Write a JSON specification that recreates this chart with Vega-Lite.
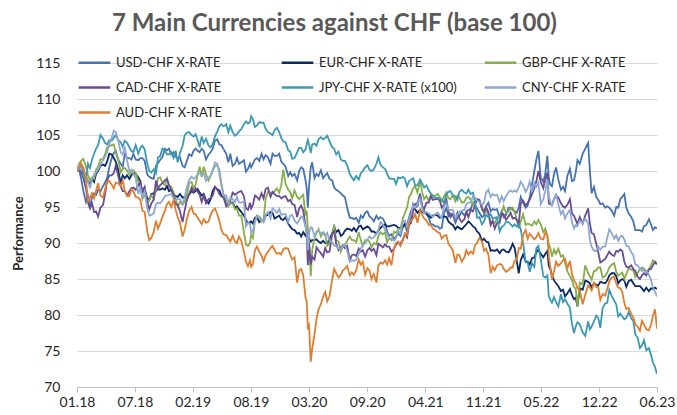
{
"$schema": "https://vega.github.io/schema/vega-lite/v6.json",
"width": 580, "height": 324,
"autosize": {"type": "none"},
"padding": {"left": 77, "top": 63, "right": 20, "bottom": 28},
"background": "white",
"title": {"text": "7 Main Currencies against CHF (base 100)", "anchor": "start", "dx": 100, "offset": 9, "fontSize": 24, "font": "Lato", "fontWeight": "bold", "color": "#595959"},
"data": {"values": [
{"d":"2018-01-01","USD":100,"EUR":100,"GBP":100,"CAD":100,"JPY":100,"CNY":100,"AUD":100},
{"d":"2018-01-15","USD":99.0,"EUR":100.7,"GBP":101.4,"CAD":99.9,"JPY":100.7,"CNY":100.2,"AUD":101.1},
{"d":"2018-02-01","USD":95.7,"EUR":99.1,"GBP":100.6,"CAD":97.6,"JPY":98.6,"CNY":99.0,"AUD":98.9},
{"d":"2018-02-15","USD":95.0,"EUR":98.1,"GBP":98.7,"CAD":94.8,"JPY":100.4,"CNY":97.6,"AUD":96.3},
{"d":"2018-03-01","USD":96.9,"EUR":98.5,"GBP":98.9,"CAD":94.3,"JPY":102.4,"CNY":99.5,"AUD":96.2},
{"d":"2018-03-15","USD":97.4,"EUR":100.0,"GBP":100.6,"CAD":93.7,"JPY":103.6,"CNY":100.2,"AUD":98.3},
{"d":"2018-04-01","USD":97.9,"EUR":100.9,"GBP":101.7,"CAD":95.3,"JPY":104.5,"CNY":101.5,"AUD":96.3},
{"d":"2018-04-15","USD":99.0,"EUR":101.3,"GBP":103.3,"CAD":98.7,"JPY":103.7,"CNY":102.6,"AUD":98.5},
{"d":"2018-05-01","USD":101.8,"EUR":102.3,"GBP":103.6,"CAD":99.4,"JPY":104.2,"CNY":104.6,"AUD":98.1},
{"d":"2018-05-15","USD":102.8,"EUR":101.3,"GBP":102.5,"CAD":100.7,"JPY":105.0,"CNY":105.4,"AUD":98.4},
{"d":"2018-06-01","USD":101.0,"EUR":98.3,"GBP":99.8,"CAD":97.9,"JPY":104.0,"CNY":102.6,"AUD":97.9},
{"d":"2018-06-15","USD":102.3,"EUR":99.0,"GBP":100.4,"CAD":97.2,"JPY":104.2,"CNY":103.4,"AUD":97.3},
{"d":"2018-07-01","USD":101.8,"EUR":98.9,"GBP":99.5,"CAD":97.2,"JPY":103.3,"CNY":100.0,"AUD":96.5},
{"d":"2018-07-15","USD":102.4,"EUR":99.8,"GBP":100.1,"CAD":97.7,"JPY":102.6,"CNY":99.6,"AUD":97.2},
{"d":"2018-08-01","USD":101.5,"EUR":99.1,"GBP":98.5,"CAD":98.0,"JPY":102.4,"CNY":96.8,"AUD":96.3},
{"d":"2018-08-15","USD":101.8,"EUR":96.8,"GBP":96.1,"CAD":97.2,"JPY":103.5,"CNY":96.4,"AUD":94.5},
{"d":"2018-09-01","USD":99.5,"EUR":96.2,"GBP":95.3,"CAD":95.6,"JPY":101.0,"CNY":94.8,"AUD":91.6},
{"d":"2018-09-15","USD":99.0,"EUR":96.8,"GBP":96.6,"CAD":95.5,"JPY":99.8,"CNY":93.9,"AUD":90.7},
{"d":"2018-10-01","USD":100.7,"EUR":97.2,"GBP":97.3,"CAD":98.7,"JPY":99.7,"CNY":95.4,"AUD":93.1},
{"d":"2018-10-15","USD":101.5,"EUR":97.4,"GBP":99.1,"CAD":98.0,"JPY":102.0,"CNY":95.5,"AUD":92.7},
{"d":"2018-11-01","USD":103.1,"EUR":97.4,"GBP":98.0,"CAD":98.7,"JPY":102.9,"CNY":96.5,"AUD":94.5},
{"d":"2018-11-15","USD":103.1,"EUR":97.2,"GBP":98.0,"CAD":98.0,"JPY":102.3,"CNY":96.7,"AUD":95.7},
{"d":"2018-12-01","USD":102.6,"EUR":96.8,"GBP":97.0,"CAD":96.7,"JPY":101.8,"CNY":96.2,"AUD":96.0},
{"d":"2018-12-15","USD":101.8,"EUR":96.4,"GBP":95.1,"CAD":95.3,"JPY":101.2,"CNY":96.1,"AUD":93.6},
{"d":"2019-01-01","USD":100.7,"EUR":96.3,"GBP":95.3,"CAD":92.9,"JPY":103.5,"CNY":95.4,"AUD":90.9},
{"d":"2019-01-15","USD":101.3,"EUR":96.4,"GBP":96.4,"CAD":95.8,"JPY":105.3,"CNY":97.6,"AUD":93.2},
{"d":"2019-02-01","USD":102.1,"EUR":97.2,"GBP":98.5,"CAD":97.7,"JPY":105.0,"CNY":99.2,"AUD":95.0},
{"d":"2019-02-15","USD":103.1,"EUR":97.2,"GBP":98.1,"CAD":97.6,"JPY":105.1,"CNY":99.1,"AUD":94.0},
{"d":"2019-03-01","USD":102.6,"EUR":97.0,"GBP":100.6,"CAD":96.7,"JPY":103.3,"CNY":99.7,"AUD":93.1},
{"d":"2019-03-15","USD":102.8,"EUR":96.8,"GBP":100.6,"CAD":96.6,"JPY":103.9,"CNY":99.7,"AUD":93.3},
{"d":"2019-04-01","USD":102.3,"EUR":95.5,"GBP":98.7,"CAD":96.1,"JPY":103.5,"CNY":99.1,"AUD":93.0},
{"d":"2019-04-15","USD":103.1,"EUR":97.2,"GBP":100.1,"CAD":96.6,"JPY":103.7,"CNY":100.0,"AUD":94.5},
{"d":"2019-05-01","USD":104.4,"EUR":97.4,"GBP":100.8,"CAD":97.5,"JPY":105.5,"CNY":101.0,"AUD":94.0},
{"d":"2019-05-15","USD":103.6,"EUR":96.6,"GBP":98.3,"CAD":96.5,"JPY":106.5,"CNY":98.0,"AUD":91.8},
{"d":"2019-06-01","USD":102.4,"EUR":95.7,"GBP":95.8,"CAD":95.1,"JPY":106.5,"CNY":96.6,"AUD":91.1},
{"d":"2019-06-15","USD":102.4,"EUR":95.5,"GBP":95.5,"CAD":95.8,"JPY":106.3,"CNY":96.3,"AUD":90.2},
{"d":"2019-07-01","USD":101.0,"EUR":94.9,"GBP":94.7,"CAD":96.7,"JPY":104.9,"CNY":95.7,"AUD":90.2},
{"d":"2019-07-15","USD":101.0,"EUR":94.7,"GBP":93.8,"CAD":97.1,"JPY":105.5,"CNY":95.6,"AUD":90.9},
{"d":"2019-08-01","USD":101.5,"EUR":93.8,"GBP":91.5,"CAD":96.5,"JPY":106.5,"CNY":95.8,"AUD":88.8},
{"d":"2019-08-15","USD":100.3,"EUR":92.7,"GBP":89.6,"CAD":94.6,"JPY":106.6,"CNY":92.8,"AUD":86.8},
{"d":"2019-08-26","USD":100.5,"EUR":93.0,"GBP":91.1,"CAD":94.8,"JPY":107.6,"CNY":91.4,"AUD":86.7},
{"d":"2019-09-01","USD":101.0,"EUR":92.7,"GBP":90.7,"CAD":95.3,"JPY":107.2,"CNY":91.7,"AUD":87.1},
{"d":"2019-09-15","USD":101.8,"EUR":93.6,"GBP":93.8,"CAD":96.4,"JPY":106.3,"CNY":93.6,"AUD":89.5},
{"d":"2019-10-01","USD":102.4,"EUR":93.2,"GBP":93.0,"CAD":96.9,"JPY":106.7,"CNY":93.3,"AUD":88.2},
{"d":"2019-10-15","USD":102.2,"EUR":93.8,"GBP":96.1,"CAD":97.5,"JPY":105.9,"CNY":93.9,"AUD":88.3},
{"d":"2019-11-01","USD":101.0,"EUR":94.3,"GBP":97.0,"CAD":96.4,"JPY":105.2,"CNY":93.4,"AUD":89.3},
{"d":"2019-11-15","USD":102.1,"EUR":93.4,"GBP":97.2,"CAD":96.8,"JPY":105.7,"CNY":94.6,"AUD":89.0},
{"d":"2019-12-01","USD":102.4,"EUR":93.8,"GBP":97.0,"CAD":96.5,"JPY":105.4,"CNY":94.7,"AUD":88.6},
{"d":"2019-12-15","USD":101.0,"EUR":93.2,"GBP":100.2,"CAD":96.4,"JPY":104.1,"CNY":94.0,"AUD":89.1},
{"d":"2020-01-01","USD":99.3,"EUR":92.7,"GBP":97.4,"CAD":95.8,"JPY":102.9,"CNY":92.9,"AUD":89.2},
{"d":"2020-01-15","USD":99.3,"EUR":91.9,"GBP":96.2,"CAD":95.4,"JPY":101.7,"CNY":93.9,"AUD":87.7},
{"d":"2020-02-01","USD":98.7,"EUR":91.3,"GBP":96.4,"CAD":93.6,"JPY":102.6,"CNY":92.7,"AUD":84.5},
{"d":"2020-02-15","USD":100.5,"EUR":90.9,"GBP":96.4,"CAD":95.2,"JPY":103.2,"CNY":93.7,"AUD":86.4},
{"d":"2020-03-01","USD":98.7,"EUR":91.0,"GBP":93.8,"CAD":92.4,"JPY":103.0,"CNY":92.3,"AUD":82.4},
{"d":"2020-03-09","USD":94.9,"EUR":90.6,"GBP":92.0,"CAD":86.9,"JPY":104.3,"CNY":89.0,"AUD":78.3},
{"d":"2020-03-19","USD":100.5,"EUR":90.2,"GBP":85.4,"CAD":87.0,"JPY":102.5,"CNY":92.2,"AUD":73.5},
{"d":"2020-04-01","USD":99.0,"EUR":90.4,"GBP":90.7,"CAD":87.7,"JPY":103.8,"CNY":90.9,"AUD":77.3},
{"d":"2020-04-15","USD":99.3,"EUR":90.2,"GBP":91.9,"CAD":89.0,"JPY":104.4,"CNY":91.7,"AUD":80.8},
{"d":"2020-05-01","USD":99.0,"EUR":90.3,"GBP":91.5,"CAD":88.1,"JPY":104.4,"CNY":91.3,"AUD":82.6},
{"d":"2020-05-15","USD":99.7,"EUR":89.9,"GBP":89.6,"CAD":88.7,"JPY":104.9,"CNY":91.4,"AUD":81.9},
{"d":"2020-06-01","USD":98.7,"EUR":91.3,"GBP":91.1,"CAD":91.3,"JPY":103.3,"CNY":90.1,"AUD":84.9},
{"d":"2020-06-15","USD":97.4,"EUR":91.5,"GBP":90.4,"CAD":89.9,"JPY":102.3,"CNY":89.6,"AUD":85.8},
{"d":"2020-07-01","USD":96.9,"EUR":91.0,"GBP":88.8,"CAD":89.4,"JPY":101.6,"CNY":89.2,"AUD":85.6},
{"d":"2020-07-15","USD":96.4,"EUR":91.7,"GBP":89.7,"CAD":89.3,"JPY":101.4,"CNY":89.7,"AUD":86.4},
{"d":"2020-08-01","USD":93.5,"EUR":91.9,"GBP":90.9,"CAD":87.6,"JPY":99.6,"CNY":87.4,"AUD":85.5},
{"d":"2020-08-15","USD":93.3,"EUR":92.1,"GBP":90.4,"CAD":88.4,"JPY":98.7,"CNY":87.5,"AUD":85.6},
{"d":"2020-09-01","USD":92.8,"EUR":92.3,"GBP":91.5,"CAD":89.2,"JPY":98.8,"CNY":88.5,"AUD":87.7},
{"d":"2020-09-15","USD":93.5,"EUR":91.9,"GBP":89.6,"CAD":89.0,"JPY":100.0,"CNY":89.8,"AUD":87.4},
{"d":"2020-10-01","USD":94.4,"EUR":92.3,"GBP":90.4,"CAD":89.0,"JPY":100.8,"CNY":90.5,"AUD":86.5},
{"d":"2020-10-15","USD":93.5,"EUR":91.6,"GBP":89.4,"CAD":88.9,"JPY":100.0,"CNY":90.6,"AUD":85.0},
{"d":"2020-11-01","USD":93.8,"EUR":91.3,"GBP":89.8,"CAD":88.3,"JPY":101.0,"CNY":91.3,"AUD":84.5},
{"d":"2020-11-15","USD":93.6,"EUR":92.1,"GBP":91.5,"CAD":89.7,"JPY":100.9,"CNY":92.9,"AUD":87.3},
{"d":"2020-12-01","USD":92.8,"EUR":92.6,"GBP":91.5,"CAD":89.8,"JPY":100.3,"CNY":91.8,"AUD":87.6},
{"d":"2020-12-15","USD":91.0,"EUR":92.3,"GBP":90.7,"CAD":89.5,"JPY":99.0,"CNY":90.6,"AUD":87.9},
{"d":"2021-01-01","USD":90.6,"EUR":92.5,"GBP":91.6,"CAD":89.2,"JPY":98.9,"CNY":90.3,"AUD":89.3},
{"d":"2021-01-15","USD":91.3,"EUR":92.1,"GBP":91.9,"CAD":90.0,"JPY":99.1,"CNY":91.7,"AUD":90.2},
{"d":"2021-02-01","USD":92.3,"EUR":92.3,"GBP":93.5,"CAD":90.5,"JPY":99.2,"CNY":93.0,"AUD":90.4},
{"d":"2021-02-15","USD":91.6,"EUR":92.5,"GBP":94.9,"CAD":90.8,"JPY":97.9,"CNY":92.4,"AUD":91.1},
{"d":"2021-03-01","USD":93.5,"EUR":94.4,"GBP":96.8,"CAD":92.8,"JPY":98.8,"CNY":94.1,"AUD":93.1},
{"d":"2021-03-15","USD":94.9,"EUR":94.7,"GBP":97.9,"CAD":95.4,"JPY":98.0,"CNY":94.9,"AUD":94.0},
{"d":"2021-04-01","USD":96.9,"EUR":94.6,"GBP":98.7,"CAD":96.7,"JPY":98.8,"CNY":96.2,"AUD":94.6},
{"d":"2021-04-15","USD":94.4,"EUR":94.2,"GBP":96.1,"CAD":94.7,"JPY":97.7,"CNY":94.1,"AUD":93.4},
{"d":"2021-05-01","USD":93.5,"EUR":93.8,"GBP":95.8,"CAD":95.6,"JPY":97.3,"CNY":94.1,"AUD":92.5},
{"d":"2021-05-15","USD":92.6,"EUR":93.8,"GBP":96.4,"CAD":96.0,"JPY":96.6,"CNY":93.6,"AUD":92.0},
{"d":"2021-06-01","USD":92.3,"EUR":93.8,"GBP":96.8,"CAD":96.1,"JPY":96.3,"CNY":94.2,"AUD":91.5},
{"d":"2021-06-15","USD":92.1,"EUR":93.6,"GBP":95.8,"CAD":94.9,"JPY":96.0,"CNY":93.5,"AUD":90.6},
{"d":"2021-07-01","USD":94.9,"EUR":93.6,"GBP":97.0,"CAD":96.0,"JPY":96.8,"CNY":95.5,"AUD":91.1},
{"d":"2021-07-15","USD":94.1,"EUR":92.7,"GBP":96.1,"CAD":93.6,"JPY":97.2,"CNY":94.6,"AUD":89.5},
{"d":"2021-08-01","USD":92.8,"EUR":91.9,"GBP":95.8,"CAD":93.4,"JPY":96.5,"CNY":93.5,"AUD":87.2},
{"d":"2021-08-15","USD":93.8,"EUR":92.1,"GBP":96.3,"CAD":93.4,"JPY":97.1,"CNY":94.3,"AUD":88.3},
{"d":"2021-09-01","USD":93.8,"EUR":92.3,"GBP":95.7,"CAD":93.3,"JPY":97.0,"CNY":94.6,"AUD":88.0},
{"d":"2021-09-15","USD":94.6,"EUR":93.0,"GBP":96.4,"CAD":93.6,"JPY":97.4,"CNY":95.6,"AUD":88.4},
{"d":"2021-10-01","USD":95.6,"EUR":92.3,"GBP":95.3,"CAD":94.4,"JPY":97.0,"CNY":96.5,"AUD":88.5},
{"d":"2021-10-15","USD":94.8,"EUR":91.6,"GBP":95.9,"CAD":96.1,"JPY":93.5,"CNY":95.9,"AUD":90.0},
{"d":"2021-11-01","USD":93.6,"EUR":90.3,"GBP":95.1,"CAD":94.7,"JPY":92.6,"CNY":95.3,"AUD":90.2},
{"d":"2021-11-15","USD":95.1,"EUR":90.2,"GBP":94.5,"CAD":95.0,"JPY":93.9,"CNY":97.0,"AUD":89.2},
{"d":"2021-12-01","USD":94.4,"EUR":88.9,"GBP":92.8,"CAD":92.5,"JPY":94.0,"CNY":96.4,"AUD":85.8},
{"d":"2021-12-15","USD":94.6,"EUR":88.9,"GBP":92.8,"CAD":92.0,"JPY":93.5,"CNY":96.6,"AUD":86.2},
{"d":"2022-01-01","USD":93.5,"EUR":88.6,"GBP":93.5,"CAD":92.8,"JPY":91.6,"CNY":95.7,"AUD":87.1},
{"d":"2022-01-15","USD":93.6,"EUR":89.1,"GBP":95.1,"CAD":94.0,"JPY":92.4,"CNY":95.8,"AUD":86.4},
{"d":"2022-02-01","USD":94.9,"EUR":88.7,"GBP":94.4,"CAD":93.7,"JPY":92.9,"CNY":97.1,"AUD":86.2},
{"d":"2022-02-15","USD":94.6,"EUR":89.9,"GBP":94.9,"CAD":93.4,"JPY":92.3,"CNY":97.1,"AUD":86.6},
{"d":"2022-03-01","USD":94.2,"EUR":87.6,"GBP":93.4,"CAD":93.2,"JPY":92.3,"CNY":97.1,"AUD":87.6},
{"d":"2022-03-08","USD":94.9,"EUR":85.8,"GBP":92.0,"CAD":92.6,"JPY":92.6,"CNY":97.7,"AUD":89.3},
{"d":"2022-03-15","USD":96.4,"EUR":87.6,"GBP":93.0,"CAD":95.5,"JPY":91.9,"CNY":98.5,"AUD":89.2},
{"d":"2022-04-01","USD":94.9,"EUR":87.4,"GBP":92.5,"CAD":95.2,"JPY":87.3,"CNY":97.1,"AUD":91.8},
{"d":"2022-04-15","USD":96.4,"EUR":87.0,"GBP":92.6,"CAD":96.0,"JPY":86.0,"CNY":98.5,"AUD":91.3},
{"d":"2022-05-01","USD":100.0,"EUR":88.0,"GBP":93.0,"CAD":97.6,"JPY":86.7,"CNY":98.3,"AUD":90.5},
{"d":"2022-05-15","USD":102.8,"EUR":89.1,"GBP":93.2,"CAD":100.0,"JPY":89.6,"CNY":98.4,"AUD":91.4},
{"d":"2022-06-01","USD":98.5,"EUR":88.0,"GBP":91.5,"CAD":97.6,"JPY":85.4,"CNY":96.1,"AUD":90.5},
{"d":"2022-06-15","USD":102.1,"EUR":88.9,"GBP":90.9,"CAD":99.8,"JPY":85.5,"CNY":98.7,"AUD":91.1},
{"d":"2022-06-20","USD":99.0,"EUR":86.8,"GBP":89.8,"CAD":95.5,"JPY":82.6,"CNY":96.3,"AUD":88.1},
{"d":"2022-07-01","USD":97.9,"EUR":85.5,"GBP":88.1,"CAD":95.3,"JPY":81.7,"CNY":95.2,"AUD":84.9},
{"d":"2022-07-15","USD":100.5,"EUR":84.4,"GBP":88.5,"CAD":96.6,"JPY":81.8,"CNY":96.9,"AUD":87.4},
{"d":"2022-08-01","USD":97.4,"EUR":83.3,"GBP":88.1,"CAD":95.5,"JPY":82.9,"CNY":94.0,"AUD":87.2},
{"d":"2022-08-15","USD":97.2,"EUR":82.6,"GBP":87.3,"CAD":94.9,"JPY":82.2,"CNY":93.4,"AUD":87.8},
{"d":"2022-09-01","USD":100.3,"EUR":83.6,"GBP":85.4,"CAD":96.1,"JPY":81.0,"CNY":94.6,"AUD":87.5},
{"d":"2022-09-15","USD":98.7,"EUR":82.2,"GBP":83.9,"CAD":93.8,"JPY":77.5,"CNY":92.0,"AUD":84.8},
{"d":"2022-09-27","USD":101.5,"EUR":81.2,"GBP":81.2,"CAD":92.6,"JPY":79.0,"CNY":92.4,"AUD":83.7},
{"d":"2022-10-15","USD":102.4,"EUR":83.5,"GBP":84.3,"CAD":92.7,"JPY":77.6,"CNY":92.8,"AUD":81.5},
{"d":"2022-11-03","USD":103.9,"EUR":84.6,"GBP":85.8,"CAD":94.8,"JPY":79.1,"CNY":92.7,"AUD":84.1},
{"d":"2022-11-15","USD":96.9,"EUR":83.8,"GBP":84.9,"CAD":91.4,"JPY":78.4,"CNY":89.5,"AUD":83.4},
{"d":"2022-12-01","USD":96.4,"EUR":84.2,"GBP":86.2,"CAD":89.9,"JPY":79.9,"CNY":88.9,"AUD":83.9},
{"d":"2022-12-15","USD":95.4,"EUR":84.6,"GBP":86.6,"CAD":87.3,"JPY":78.2,"CNY":89.1,"AUD":82.1},
{"d":"2023-01-01","USD":94.9,"EUR":84.4,"GBP":85.4,"CAD":87.8,"JPY":81.6,"CNY":89.5,"AUD":82.7},
{"d":"2023-01-15","USD":94.9,"EUR":85.5,"GBP":86.6,"CAD":88.8,"JPY":83.5,"CNY":91.9,"AUD":84.7},
{"d":"2023-02-01","USD":93.8,"EUR":85.8,"GBP":87.2,"CAD":88.2,"JPY":82.0,"CNY":90.6,"AUD":85.3},
{"d":"2023-02-15","USD":94.9,"EUR":84.4,"GBP":85.5,"CAD":88.8,"JPY":79.8,"CNY":90.3,"AUD":83.8},
{"d":"2023-03-01","USD":96.4,"EUR":85.0,"GBP":85.9,"CAD":88.9,"JPY":79.8,"CNY":91.0,"AUD":83.2},
{"d":"2023-03-15","USD":94.9,"EUR":83.9,"GBP":85.7,"CAD":86.7,"JPY":79.6,"CNY":89.6,"AUD":80.8},
{"d":"2023-04-01","USD":93.6,"EUR":84.9,"GBP":86.3,"CAD":86.9,"JPY":79.5,"CNY":88.7,"AUD":80.1},
{"d":"2023-04-15","USD":91.8,"EUR":84.0,"GBP":85.3,"CAD":86.1,"JPY":77.3,"CNY":87.0,"AUD":78.7},
{"d":"2023-05-01","USD":91.8,"EUR":84.0,"GBP":86.4,"CAD":85.0,"JPY":75.4,"CNY":86.4,"AUD":77.8},
{"d":"2023-05-15","USD":92.3,"EUR":83.3,"GBP":86.2,"CAD":85.8,"JPY":76.5,"CNY":86.5,"AUD":78.7},
{"d":"2023-06-01","USD":93.3,"EUR":83.3,"GBP":86.4,"CAD":86.3,"JPY":75.4,"CNY":85.6,"AUD":77.9},
{"d":"2023-06-15","USD":91.8,"EUR":83.6,"GBP":87.6,"CAD":86.9,"JPY":73.4,"CNY":83.8,"AUD":79.9},
{"d":"2023-06-22","USD":92.2,"EUR":83.8,"GBP":87.3,"CAD":87.4,"JPY":72.8,"CNY":83.2,"AUD":80.8},
{"d":"2023-06-29","USD":92.0,"EUR":83.6,"GBP":87.0,"CAD":87.1,"JPY":71.8,"CNY":82.6,"AUD":78.1},
{"d":"2018-01-08","USD":100.3,"EUR":100.2,"GBP":101.0,"CAD":100.6,"JPY":100.2,"CNY":100.8,"AUD":100.4},
{"d":"2018-01-23","USD":97.2,"EUR":100.1,"GBP":101.7,"CAD":99.0,"JPY":99.4,"CNY":100.5,"AUD":100.3},
{"d":"2018-02-08","USD":96.5,"EUR":98.6,"GBP":99.4,"CAD":95.6,"JPY":101.0,"CNY":98.6,"AUD":95.8},
{"d":"2018-02-22","USD":96.4,"EUR":98.9,"GBP":99.1,"CAD":95.5,"JPY":101.6,"CNY":98.9,"AUD":96.9},
{"d":"2018-03-08","USD":96.7,"EUR":99.6,"GBP":100.2,"CAD":94.4,"JPY":103.1,"CNY":99.8,"AUD":97.3},
{"d":"2018-03-23","USD":97.2,"EUR":100.7,"GBP":101.6,"CAD":94.9,"JPY":105.0,"CNY":100.9,"AUD":96.6},
{"d":"2018-04-08","USD":98.4,"EUR":100.7,"GBP":102.3,"CAD":96.8,"JPY":103.9,"CNY":102.0,"AUD":97.5},
{"d":"2018-04-23","USD":100.6,"EUR":102.4,"GBP":103.4,"CAD":99.4,"JPY":104.3,"CNY":103.8,"AUD":98.6},
{"d":"2018-05-08","USD":102.5,"EUR":101.8,"GBP":103.7,"CAD":99.7,"JPY":104.6,"CNY":105.6,"AUD":97.6},
{"d":"2018-05-23","USD":101.6,"EUR":100.2,"GBP":101.7,"CAD":99.4,"JPY":104.3,"CNY":104.3,"AUD":98.3},
{"d":"2018-06-08","USD":100.6,"EUR":99.4,"GBP":100.3,"CAD":97.2,"JPY":103.4,"CNY":102.3,"AUD":98.7},
{"d":"2018-06-23","USD":101.8,"EUR":99.4,"GBP":100.1,"CAD":96.6,"JPY":103.9,"CNY":101.5,"AUD":96.6},
{"d":"2018-07-08","USD":101.6,"EUR":99.4,"GBP":100.0,"CAD":97.6,"JPY":102.8,"CNY":100.2,"AUD":97.4},
{"d":"2018-07-23","USD":101.6,"EUR":99.6,"GBP":99.7,"CAD":97.4,"JPY":103.6,"CNY":99.0,"AUD":96.4},
{"d":"2018-08-08","USD":101.8,"EUR":98.6,"GBP":97.7,"CAD":98.4,"JPY":103.2,"CNY":97.7,"AUD":96.0},
{"d":"2018-08-23","USD":101.4,"EUR":97.4,"GBP":96.8,"CAD":97.8,"JPY":103.0,"CNY":97.2,"AUD":94.3},
{"d":"2018-09-08","USD":99.2,"EUR":96.0,"GBP":96.0,"CAD":94.7,"JPY":100.0,"CNY":93.8,"AUD":90.4},
{"d":"2018-09-23","USD":98.9,"EUR":96.9,"GBP":96.1,"CAD":96.0,"JPY":100.2,"CNY":94.1,"AUD":91.5},
{"d":"2018-10-08","USD":101.1,"EUR":97.5,"GBP":99.0,"CAD":97.6,"JPY":101.9,"CNY":95.6,"AUD":92.0},
{"d":"2018-10-23","USD":101.9,"EUR":97.6,"GBP":98.4,"CAD":98.3,"JPY":103.1,"CNY":95.9,"AUD":93.6},
{"d":"2018-11-08","USD":102.9,"EUR":97.9,"GBP":99.0,"CAD":98.9,"JPY":102.3,"CNY":96.6,"AUD":95.4},
{"d":"2018-11-23","USD":102.3,"EUR":97.4,"GBP":97.8,"CAD":97.3,"JPY":102.6,"CNY":96.8,"AUD":95.0},
{"d":"2018-12-08","USD":102.0,"EUR":96.5,"GBP":96.1,"CAD":95.4,"JPY":102.8,"CNY":95.9,"AUD":94.6},
{"d":"2018-12-23","USD":101.9,"EUR":96.8,"GBP":95.7,"CAD":94.4,"JPY":102.5,"CNY":96.1,"AUD":92.8},
{"d":"2019-01-08","USD":100.5,"EUR":96.4,"GBP":95.7,"CAD":94.5,"JPY":104.9,"CNY":96.3,"AUD":91.8},
{"d":"2019-01-23","USD":102.3,"EUR":96.7,"GBP":98.3,"CAD":96.7,"JPY":105.4,"CNY":98.7,"AUD":94.4},
{"d":"2019-02-08","USD":102.8,"EUR":97.0,"GBP":97.6,"CAD":97.1,"JPY":104.8,"CNY":98.9,"AUD":94.1},
{"d":"2019-02-22","USD":102.8,"EUR":97.5,"GBP":99.5,"CAD":97.1,"JPY":104.3,"CNY":99.6,"AUD":93.5},
{"d":"2019-03-08","USD":103.1,"EUR":96.6,"GBP":99.2,"CAD":95.7,"JPY":104.8,"CNY":99.5,"AUD":92.6},
{"d":"2019-03-23","USD":101.6,"EUR":95.9,"GBP":99.5,"CAD":95.5,"JPY":104.5,"CNY":98.6,"AUD":92.8},
{"d":"2019-04-08","USD":102.6,"EUR":96.1,"GBP":99.4,"CAD":96.2,"JPY":103.3,"CNY":99.3,"AUD":93.9},
{"d":"2019-04-23","USD":104.2,"EUR":97.8,"GBP":100.7,"CAD":97.7,"JPY":104.8,"CNY":101.2,"AUD":94.8},
{"d":"2019-05-08","USD":103.7,"EUR":97.3,"GBP":100.2,"CAD":96.8,"JPY":106.2,"CNY":99.7,"AUD":93.1},
{"d":"2019-05-23","USD":103.0,"EUR":96.3,"GBP":96.6,"CAD":96.3,"JPY":106.2,"CNY":96.6,"AUD":91.2},
{"d":"2019-06-08","USD":101.2,"EUR":95.3,"GBP":95.1,"CAD":95.6,"JPY":105.4,"CNY":95.5,"AUD":90.6},
{"d":"2019-06-23","USD":100.7,"EUR":95.6,"GBP":95.5,"CAD":97.0,"JPY":105.4,"CNY":96.1,"AUD":91.0},
{"d":"2019-07-08","USD":101.8,"EUR":95.1,"GBP":94.8,"CAD":96.9,"JPY":105.1,"CNY":96.4,"AUD":90.0},
{"d":"2019-07-23","USD":101.2,"EUR":94.3,"GBP":93.8,"CAD":97.2,"JPY":105.8,"CNY":95.6,"AUD":90.3},
{"d":"2019-08-08","USD":99.9,"EUR":93.2,"GBP":89.8,"CAD":94.8,"JPY":106.9,"CNY":92.3,"AUD":87.4},
{"d":"2019-08-22","USD":101.0,"EUR":92.9,"GBP":90.0,"CAD":95.6,"JPY":106.8,"CNY":92.7,"AUD":87.6},
{"d":"2019-09-08","USD":101.6,"EUR":93.5,"GBP":93.0,"CAD":96.6,"JPY":106.1,"CNY":93.0,"AUD":89.0},
{"d":"2019-09-23","USD":101.4,"EUR":92.9,"GBP":93.5,"CAD":96.0,"JPY":106.8,"CNY":93.7,"AUD":88.8},
{"d":"2019-10-08","USD":101.6,"EUR":93.0,"GBP":93.2,"CAD":96.2,"JPY":106.7,"CNY":92.9,"AUD":87.4},
{"d":"2019-10-23","USD":101.9,"EUR":93.9,"GBP":97.1,"CAD":97.7,"JPY":105.4,"CNY":94.3,"AUD":88.8},
{"d":"2019-11-08","USD":102.4,"EUR":94.2,"GBP":96.9,"CAD":97.1,"JPY":105.0,"CNY":94.8,"AUD":89.6},
{"d":"2019-11-23","USD":102.1,"EUR":93.6,"GBP":97.6,"CAD":96.5,"JPY":106.0,"CNY":94.2,"AUD":88.5},
{"d":"2019-12-08","USD":101.3,"EUR":93.3,"GBP":98.0,"CAD":96.2,"JPY":104.6,"CNY":93.9,"AUD":88.4},
{"d":"2019-12-23","USD":100.6,"EUR":93.6,"GBP":98.2,"CAD":96.5,"JPY":104.0,"CNY":94.0,"AUD":89.3},
{"d":"2020-01-08","USD":99.8,"EUR":92.3,"GBP":97.1,"CAD":96.0,"JPY":102.7,"CNY":93.8,"AUD":88.4},
{"d":"2020-01-23","USD":99.6,"EUR":91.8,"GBP":97.3,"CAD":95.3,"JPY":101.8,"CNY":93.1,"AUD":88.0},
{"d":"2020-02-08","USD":100.0,"EUR":91.4,"GBP":96.1,"CAD":94.8,"JPY":103.2,"CNY":93.2,"AUD":86.2},
{"d":"2020-02-22","USD":100.3,"EUR":91.5,"GBP":96.7,"CAD":94.5,"JPY":102.6,"CNY":93.4,"AUD":85.5},
{"d":"2020-03-05","USD":97.6,"EUR":91.3,"GBP":94.5,"CAD":91.3,"JPY":103.7,"CNY":91.4,"AUD":81.9},
{"d":"2020-03-13","USD":97.8,"EUR":90.7,"GBP":90.2,"CAD":90.0,"JPY":103.7,"CNY":91.3,"AUD":78.6},
{"d":"2020-03-24","USD":101.2,"EUR":90.4,"GBP":89.0,"CAD":88.1,"JPY":103.7,"CNY":92.1,"AUD":75.3},
{"d":"2020-04-08","USD":99.6,"EUR":90.5,"GBP":91.4,"CAD":89.4,"JPY":103.5,"CNY":91.6,"AUD":79.5},
{"d":"2020-04-23","USD":100.1,"EUR":90.0,"GBP":90.9,"CAD":88.6,"JPY":104.7,"CNY":91.4,"AUD":81.5},
{"d":"2020-05-08","USD":99.4,"EUR":90.0,"GBP":91.2,"CAD":89.3,"JPY":104.6,"CNY":91.0,"AUD":83.2},
{"d":"2020-05-23","USD":98.9,"EUR":90.6,"GBP":89.9,"CAD":88.8,"JPY":104.1,"CNY":90.3,"AUD":82.6},
{"d":"2020-06-08","USD":97.7,"EUR":92.3,"GBP":92.5,"CAD":91.6,"JPY":103.1,"CNY":89.6,"AUD":86.4},
{"d":"2020-06-23","USD":97.2,"EUR":91.8,"GBP":90.2,"CAD":89.0,"JPY":102.7,"CNY":89.2,"AUD":85.2},
{"d":"2020-07-08","USD":96.6,"EUR":91.2,"GBP":89.6,"CAD":89.7,"JPY":101.4,"CNY":89.6,"AUD":86.2},
{"d":"2020-07-23","USD":94.9,"EUR":92.0,"GBP":90.3,"CAD":89.6,"JPY":100.8,"CNY":88.9,"AUD":86.8},
{"d":"2020-08-08","USD":93.5,"EUR":91.7,"GBP":90.4,"CAD":88.3,"JPY":99.1,"CNY":87.6,"AUD":85.9},
{"d":"2020-08-23","USD":93.5,"EUR":91.6,"GBP":90.1,"CAD":88.2,"JPY":99.3,"CNY":87.7,"AUD":86.2},
{"d":"2020-09-08","USD":93.8,"EUR":92.4,"GBP":90.4,"CAD":88.8,"JPY":99.7,"CNY":89.2,"AUD":87.0},
{"d":"2020-09-23","USD":94.2,"EUR":92.1,"GBP":90.4,"CAD":88.1,"JPY":100.5,"CNY":89.9,"AUD":85.6},
{"d":"2020-10-08","USD":93.7,"EUR":92.1,"GBP":90.2,"CAD":89.3,"JPY":100.2,"CNY":90.9,"AUD":86.2},
{"d":"2020-10-23","USD":93.0,"EUR":91.6,"GBP":90.0,"CAD":89.2,"JPY":100.2,"CNY":90.8,"AUD":85.7},
{"d":"2020-11-08","USD":93.3,"EUR":91.7,"GBP":91.0,"CAD":89.9,"JPY":101.9,"CNY":91.8,"AUD":86.9},
{"d":"2020-11-23","USD":93.4,"EUR":92.4,"GBP":91.2,"CAD":89.4,"JPY":100.5,"CNY":92.6,"AUD":87.1},
{"d":"2020-12-08","USD":91.6,"EUR":92.3,"GBP":90.1,"CAD":89.5,"JPY":99.6,"CNY":91.3,"AUD":87.0},
{"d":"2020-12-23","USD":91.2,"EUR":92.4,"GBP":90.4,"CAD":88.8,"JPY":98.9,"CNY":90.6,"AUD":86.9},
{"d":"2021-01-08","USD":90.9,"EUR":92.4,"GBP":91.4,"CAD":89.8,"JPY":98.2,"CNY":90.7,"AUD":90.0},
{"d":"2021-01-23","USD":91.0,"EUR":92.1,"GBP":92.0,"CAD":89.9,"JPY":99.0,"CNY":91.3,"AUD":89.6},
{"d":"2021-02-08","USD":92.4,"EUR":92.7,"GBP":94.2,"CAD":91.3,"JPY":98.9,"CNY":93.1,"AUD":91.3},
{"d":"2021-02-22","USD":92.9,"EUR":93.5,"GBP":96.4,"CAD":92.5,"JPY":98.6,"CNY":93.4,"AUD":92.9},
{"d":"2021-03-08","USD":95.4,"EUR":94.9,"GBP":97.6,"CAD":94.4,"JPY":99.0,"CNY":95.2,"AUD":93.4},
{"d":"2021-03-23","USD":95.1,"EUR":94.2,"GBP":97.0,"CAD":95.6,"JPY":98.0,"CNY":95.5,"AUD":92.8},
{"d":"2021-04-08","USD":95.2,"EUR":94.3,"GBP":97.1,"CAD":95.1,"JPY":98.3,"CNY":94.8,"AUD":93.9},
{"d":"2021-04-23","USD":94.0,"EUR":94.1,"GBP":96.5,"CAD":95.6,"JPY":98.0,"CNY":94.3,"AUD":93.1},
{"d":"2021-05-08","USD":92.6,"EUR":93.5,"GBP":96.6,"CAD":96.5,"JPY":96.9,"CNY":93.9,"AUD":92.6},
{"d":"2021-05-23","USD":92.3,"EUR":93.9,"GBP":96.6,"CAD":96.1,"JPY":96.3,"CNY":94.0,"AUD":91.8},
{"d":"2021-06-08","USD":92.0,"EUR":93.5,"GBP":96.4,"CAD":95.9,"JPY":96.1,"CNY":93.8,"AUD":91.4},
{"d":"2021-06-23","USD":94.2,"EUR":93.7,"GBP":96.5,"CAD":95.3,"JPY":95.6,"CNY":95.1,"AUD":91.0},
{"d":"2021-07-08","USD":93.7,"EUR":93.0,"GBP":96.2,"CAD":94.4,"JPY":97.1,"CNY":94.6,"AUD":89.9},
{"d":"2021-07-23","USD":94.0,"EUR":92.5,"GBP":96.6,"CAD":94.0,"JPY":96.6,"CNY":94.6,"AUD":89.0},
{"d":"2021-08-08","USD":93.5,"EUR":92.3,"GBP":96.6,"CAD":94.2,"JPY":96.0,"CNY":94.0,"AUD":88.4},
{"d":"2021-08-23","USD":94.3,"EUR":91.9,"GBP":95.6,"CAD":92.9,"JPY":97.4,"CNY":94.5,"AUD":87.4},
{"d":"2021-09-08","USD":94.3,"EUR":92.6,"GBP":96.3,"CAD":94.3,"JPY":96.9,"CNY":95.4,"AUD":89.0},
{"d":"2021-09-23","USD":94.7,"EUR":92.7,"GBP":96.0,"CAD":94.6,"JPY":96.8,"CNY":95.6,"AUD":88.8},
{"d":"2021-10-08","USD":95.2,"EUR":92.1,"GBP":95.8,"CAD":95.3,"JPY":95.6,"CNY":96.3,"AUD":89.7},
{"d":"2021-10-23","USD":94.2,"EUR":91.3,"GBP":95.9,"CAD":96.0,"JPY":93.6,"CNY":95.7,"AUD":90.7},
{"d":"2021-11-08","USD":93.8,"EUR":90.6,"GBP":94.2,"CAD":94.3,"JPY":93.0,"CNY":95.6,"AUD":88.9},
{"d":"2021-11-23","USD":95.6,"EUR":90.1,"GBP":94.0,"CAD":94.3,"JPY":93.6,"CNY":97.4,"AUD":88.4},
{"d":"2021-12-08","USD":94.7,"EUR":89.0,"GBP":92.9,"CAD":93.1,"JPY":93.4,"CNY":96.8,"AUD":86.7},
{"d":"2021-12-23","USD":94.7,"EUR":89.1,"GBP":93.5,"CAD":92.8,"JPY":93.6,"CNY":96.7,"AUD":86.9},
{"d":"2022-01-08","USD":94.4,"EUR":89.0,"GBP":94.1,"CAD":94.1,"JPY":92.2,"CNY":96.5,"AUD":87.0},
{"d":"2022-01-23","USD":93.9,"EUR":88.8,"GBP":94.2,"CAD":93.2,"JPY":92.9,"CNY":96.5,"AUD":86.0},
{"d":"2022-02-08","USD":94.9,"EUR":89.2,"GBP":94.8,"CAD":94.2,"JPY":92.6,"CNY":97.3,"AUD":86.6},
{"d":"2022-02-22","USD":94.4,"EUR":89.3,"GBP":94.2,"CAD":93.5,"JPY":92.6,"CNY":97.3,"AUD":87.6},
{"d":"2022-03-23","USD":95.6,"EUR":88.4,"GBP":94.0,"CAD":95.9,"JPY":90.0,"CNY":98.0,"AUD":91.1},
{"d":"2022-04-08","USD":95.2,"EUR":87.4,"GBP":92.7,"CAD":95.6,"JPY":87.3,"CNY":97.6,"AUD":90.6},
{"d":"2022-04-23","USD":98.1,"EUR":87.9,"GBP":92.4,"CAD":96.8,"JPY":87.2,"CNY":97.1,"AUD":90.9},
{"d":"2022-05-08","USD":101.6,"EUR":88.7,"GBP":92.6,"CAD":98.6,"JPY":89.3,"CNY":97.8,"AUD":90.8},
{"d":"2022-05-23","USD":99.1,"EUR":88.5,"GBP":92.6,"CAD":98.5,"JPY":87.8,"CNY":95.4,"AUD":90.6},
{"d":"2022-06-08","USD":99.7,"EUR":88.5,"GBP":92.0,"CAD":98.9,"JPY":85.2,"CNY":97.3,"AUD":91.5},
{"d":"2022-06-25","USD":98.1,"EUR":86.4,"GBP":89.3,"CAD":95.4,"JPY":82.1,"CNY":95.8,"AUD":86.7},
{"d":"2022-07-08","USD":99.6,"EUR":84.8,"GBP":89.1,"CAD":96.1,"JPY":82.5,"CNY":96.0,"AUD":86.1},
{"d":"2022-07-23","USD":98.8,"EUR":84.0,"GBP":89.2,"CAD":96.3,"JPY":81.2,"CNY":95.3,"AUD":86.8},
{"d":"2022-08-08","USD":97.8,"EUR":83.5,"GBP":88.3,"CAD":95.1,"JPY":81.8,"CNY":94.5,"AUD":87.6},
{"d":"2022-08-23","USD":99.3,"EUR":83.0,"GBP":86.1,"CAD":95.3,"JPY":81.6,"CNY":94.1,"AUD":86.5},
{"d":"2022-09-08","USD":98.6,"EUR":82.8,"GBP":84.9,"CAD":94.1,"JPY":78.8,"CNY":92.9,"AUD":85.7},
{"d":"2022-09-21","USD":99.8,"EUR":82.4,"GBP":83.6,"CAD":93.2,"JPY":78.4,"CNY":92.5,"AUD":84.5},
{"d":"2022-10-05","USD":101.0,"EUR":83.7,"GBP":84.5,"CAD":93.6,"JPY":78.7,"CNY":93.1,"AUD":83.4},
{"d":"2022-10-24","USD":103.1,"EUR":84.8,"GBP":86.9,"CAD":93.8,"JPY":77.1,"CNY":93.4,"AUD":82.8},
{"d":"2022-11-09","USD":100.0,"EUR":84.4,"GBP":85.4,"CAD":92.7,"JPY":78.0,"CNY":90.4,"AUD":83.8},
{"d":"2022-11-23","USD":97.8,"EUR":84.4,"GBP":86.1,"CAD":91.2,"JPY":79.1,"CNY":88.9,"AUD":84.5},
{"d":"2022-12-08","USD":96.0,"EUR":84.1,"GBP":86.6,"CAD":88.7,"JPY":79.6,"CNY":89.5,"AUD":83.8},
{"d":"2022-12-23","USD":95.5,"EUR":84.5,"GBP":85.2,"CAD":87.5,"JPY":81.0,"CNY":89.5,"AUD":82.9},
{"d":"2023-01-08","USD":95.1,"EUR":84.8,"GBP":85.9,"CAD":88.3,"JPY":81.7,"CNY":90.7,"AUD":83.6},
{"d":"2023-01-23","USD":94.5,"EUR":85.8,"GBP":87.0,"CAD":88.4,"JPY":82.7,"CNY":91.4,"AUD":85.2},
{"d":"2023-02-08","USD":95.0,"EUR":85.4,"GBP":86.0,"CAD":88.9,"JPY":81.5,"CNY":91.1,"AUD":84.4},
{"d":"2023-02-22","USD":96.1,"EUR":84.8,"GBP":85.7,"CAD":89.1,"JPY":80.2,"CNY":90.9,"AUD":83.7},
{"d":"2023-03-08","USD":96.8,"EUR":84.8,"GBP":85.0,"CAD":87.4,"JPY":79.4,"CNY":90.5,"AUD":81.7},
{"d":"2023-03-23","USD":94.1,"EUR":84.7,"GBP":86.5,"CAD":86.6,"JPY":80.4,"CNY":89.5,"AUD":81.0},
{"d":"2023-04-08","USD":93.0,"EUR":84.4,"GBP":86.2,"CAD":86.4,"JPY":79.2,"CNY":88.3,"AUD":79.7},
{"d":"2023-04-23","USD":91.8,"EUR":84.0,"GBP":85.8,"CAD":85.3,"JPY":76.9,"CNY":86.9,"AUD":78.4},
{"d":"2023-05-08","USD":91.6,"EUR":83.7,"GBP":86.6,"CAD":85.5,"JPY":75.8,"CNY":86.1,"AUD":79.2},
{"d":"2023-05-23","USD":92.5,"EUR":83.8,"GBP":85.9,"CAD":85.5,"JPY":75.1,"CNY":86.1,"AUD":78.0},
{"d":"2023-06-08","USD":92.6,"EUR":83.7,"GBP":86.9,"CAD":86.4,"JPY":74.5,"CNY":84.9,"AUD":78.6}
]},
"transform": [{"fold": ["USD","EUR","GBP","CAD","JPY","CNY","AUD"], "as": ["cur","v"]}],
"mark": {"type": "line", "strokeWidth": 1.8, "clip": true},
"encoding": {
  "x": {"field": "d", "type": "temporal",
    "scale": {"type": "utc", "nice": false, "domain": [{"year":2018,"month":1,"date":1,"utc":true},{"year":2023,"month":6,"date":29,"utc":true}]},
    "axis": {"title": null, "labelExpr": "utcFormat(datum.value, '%m.%y')", "grid": false, "labelFlush": false,
      "values": [{"year":2018,"month":1,"date":1,"utc":true},{"year":2018,"month":7,"date":20,"utc":true},{"year":2019,"month":2,"date":5,"utc":true},{"year":2019,"month":8,"date":25,"utc":true},{"year":2020,"month":3,"date":13,"utc":true},{"year":2020,"month":9,"date":30,"utc":true},{"year":2021,"month":4,"date":19,"utc":true},{"year":2021,"month":11,"date":5,"utc":true},{"year":2022,"month":5,"date":24,"utc":true},{"year":2022,"month":12,"date":11,"utc":true},{"year":2023,"month":6,"date":29,"utc":true}],
      "domainColor": "#bfbfbf", "tickColor": "#bfbfbf", "tickSize": 5, "labelFont": "Lato", "labelFontSize": 14, "labelColor": "#262626", "labelPadding": 3, "labelOverlap": false}},
  "y": {"field": "v", "type": "quantitative",
    "scale": {"domain": [70, 115], "nice": false, "zero": false},
    "axis": {"title": "Performance", "values": [70,75,80,85,90,95,100,105,110,115], "domain": false, "ticks": false, "tickSize": 0, "labelPadding": 17,
      "gridColor": "#d9d9d9", "gridWidth": 1, "labelFont": "Lato", "labelFontSize": 14, "labelColor": "#262626",
      "titleFont": "Lato", "titleFontSize": 13, "titleFontWeight": "bold", "titleColor": "#262626", "titleX": -59, "titleY": 170, "titleAngle": 270, "titleAlign": "center", "titleBaseline": "middle"}},
  "color": {"field": "cur", "type": "nominal",
    "scale": {"domain": ["USD","EUR","GBP","CAD","JPY","CNY","AUD"], "range": ["#4573B0","#0B2A65","#86AE4A","#6A4C93","#3B9AB2","#8FA8D3","#E07E30"]},
    "legend": {"orient": "none", "legendX": 0, "legendY": -18, "direction": "horizontal", "columns": 3, "gridAlign": "all", "columnPadding": 21, "rowPadding": -8,
      "symbolType": "stroke", "symbolSize": 1000, "symbolStrokeWidth": 2.5, "labelFont": "Lato", "labelFontSize": 13, "labelColor": "#262626", "labelOffset": 4, "labelLimit": 300,
      "title": null, "padding": 0,
      "labelExpr": "datum.label == 'JPY' ? 'JPY-CHF X-RATE (x100)' : datum.label + '-CHF X-RATE'"}}
},
"config": {"view": {"stroke": null}}
}
